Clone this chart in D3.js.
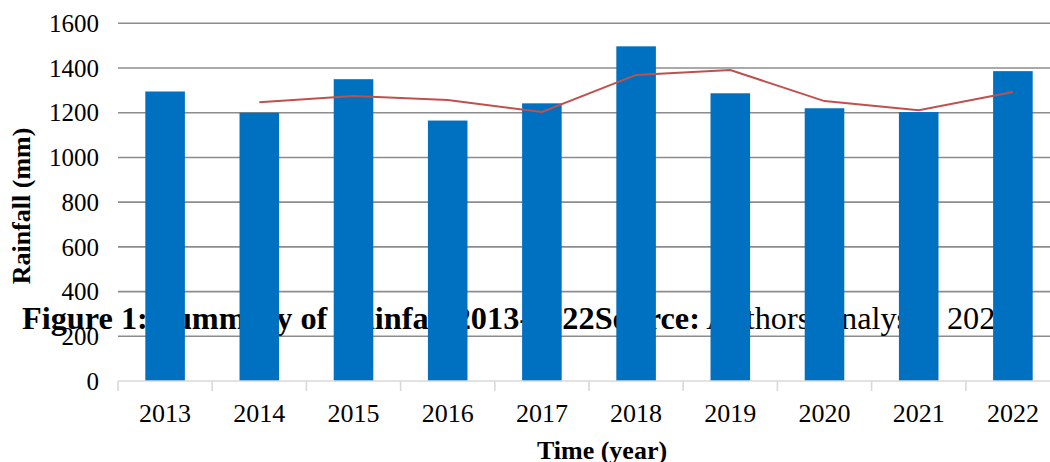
<!DOCTYPE html>
<html>
<head>
<meta charset="utf-8">
<title>Rainfall 2013-2022</title>
<script src="https://d3js.org/d3.v7.min.js"></script>
<style>
  body { margin: 0; background: #fff; }
  text { font-family: "Liberation Serif", "Times New Roman", serif; fill: #000; }
</style>
</head>
<body>
<div id="chart"></div>
<script>
// data
var years = ["2013", "2014", "2015", "2016", "2017", "2018", "2019", "2020", "2021", "2022"];
var rainfall = [1295, 1200, 1350, 1165, 1242, 1497, 1287, 1220, 1203, 1386];
// two-year moving average line (starts at 2014), values as read
var avgYears = ["2014", "2015", "2016", "2017", "2018", "2019", "2020", "2021", "2022"];
var avgValues = [1247, 1275, 1257, 1203, 1369, 1391, 1252, 1211, 1293];
var yTicks = [0, 200, 400, 600, 800, 1000, 1200, 1400, 1600];

var W = 1050, H = 462;

var svg = d3.select("#chart").append("svg")
    .attr("width", W)
    .attr("height", H);

var x = d3.scaleBand()
    .domain(years)
    .range([118, 1060])
    .padding(0);

var y = d3.scaleLinear()
    .domain([0, 1600])
    .range([381, 23.3]);

// gridlines
svg.append("g")
  .selectAll("line")
  .data(yTicks.filter(function(d) { return d > 0; }))
  .join("line")
    .attr("x1", 118)
    .attr("x2", W)
    .attr("y1", function(d) { return y(d); })
    .attr("y2", function(d) { return y(d); })
    .attr("stroke", "#8c8c8c")
    .attr("stroke-width", 1.6);

// y tick labels
svg.append("g")
  .selectAll("text")
  .data(yTicks)
  .join("text")
    .attr("x", 99)
    .attr("y", function(d) { return y(d); })
    .attr("dy", "0.35em")
    .attr("text-anchor", "end")
    .style("font-size", "25px")
    .text(function(d) { return d; });

// caption text that sits behind the bars
var cap = svg.append("text")
    .attr("x", 22)
    .attr("y", 329)
    .style("font-size", "32.3px");
cap.append("tspan").style("font-weight", "bold").text("Figure 1: Summary of Rainfall 2013-2022Source:");
cap.append("tspan").text(" Authors\u2019 analysis, 2022");

// bars
var barW = x.bandwidth() * 0.42;
svg.append("g")
  .selectAll("rect")
  .data(years)
  .join("rect")
    .attr("x", function(d) { return x(d) + (x.bandwidth() - barW) / 2; })
    .attr("y", function(d, i) { return y(rainfall[i]); })
    .attr("width", barW)
    .attr("height", function(d, i) { return y(0) - y(rainfall[i]); })
    .attr("fill", "#0070c0");

// x axis line + ticks
var xAxis = svg.append("g")
    .attr("transform", "translate(0," + y(0) + ")")
    .call(d3.axisBottom(x).tickSize(0).tickFormat(""));
xAxis.select(".domain").attr("stroke", "#d9d9d9").attr("stroke-width", 1.6);
xAxis.select(".domain").attr("d", "M118,0H" + W);

var bounds = years.map(function(d) { return x(d); });
svg.append("g")
  .selectAll("line")
  .data(bounds)
  .join("line")
    .attr("x1", function(d) { return d; })
    .attr("x2", function(d) { return d; })
    .attr("y1", y(0))
    .attr("y2", y(0) + 10)
    .attr("stroke", "#d9d9d9")
    .attr("stroke-width", 1.6);

// year labels
svg.append("g")
  .selectAll("text")
  .data(years)
  .join("text")
    .attr("x", function(d) { return x(d) + x.bandwidth() / 2; })
    .attr("y", 422)
    .attr("text-anchor", "middle")
    .style("font-size", "26px")
    .text(function(d) { return d; });

// moving average line
var line = d3.line()
    .x(function(d) { return x(d) + x.bandwidth() / 2; })
    .y(function(d, i) { return y(avgValues[i]); });

svg.append("path")
    .datum(avgYears)
    .attr("d", line)
    .attr("fill", "none")
    .attr("stroke", "#c0504d")
    .attr("stroke-width", 2);

// axis titles
svg.append("text")
    .attr("transform", "translate(30,206) rotate(-90)")
    .attr("text-anchor", "middle")
    .style("font-size", "26px")
    .style("font-weight", "bold")
    .text("Rainfall (mm)");

svg.append("text")
    .attr("x", 602)
    .attr("y", 459)
    .attr("text-anchor", "middle")
    .style("font-size", "26px")
    .style("font-weight", "bold")
    .text("Time (year)");
</script>
</body>
</html>
